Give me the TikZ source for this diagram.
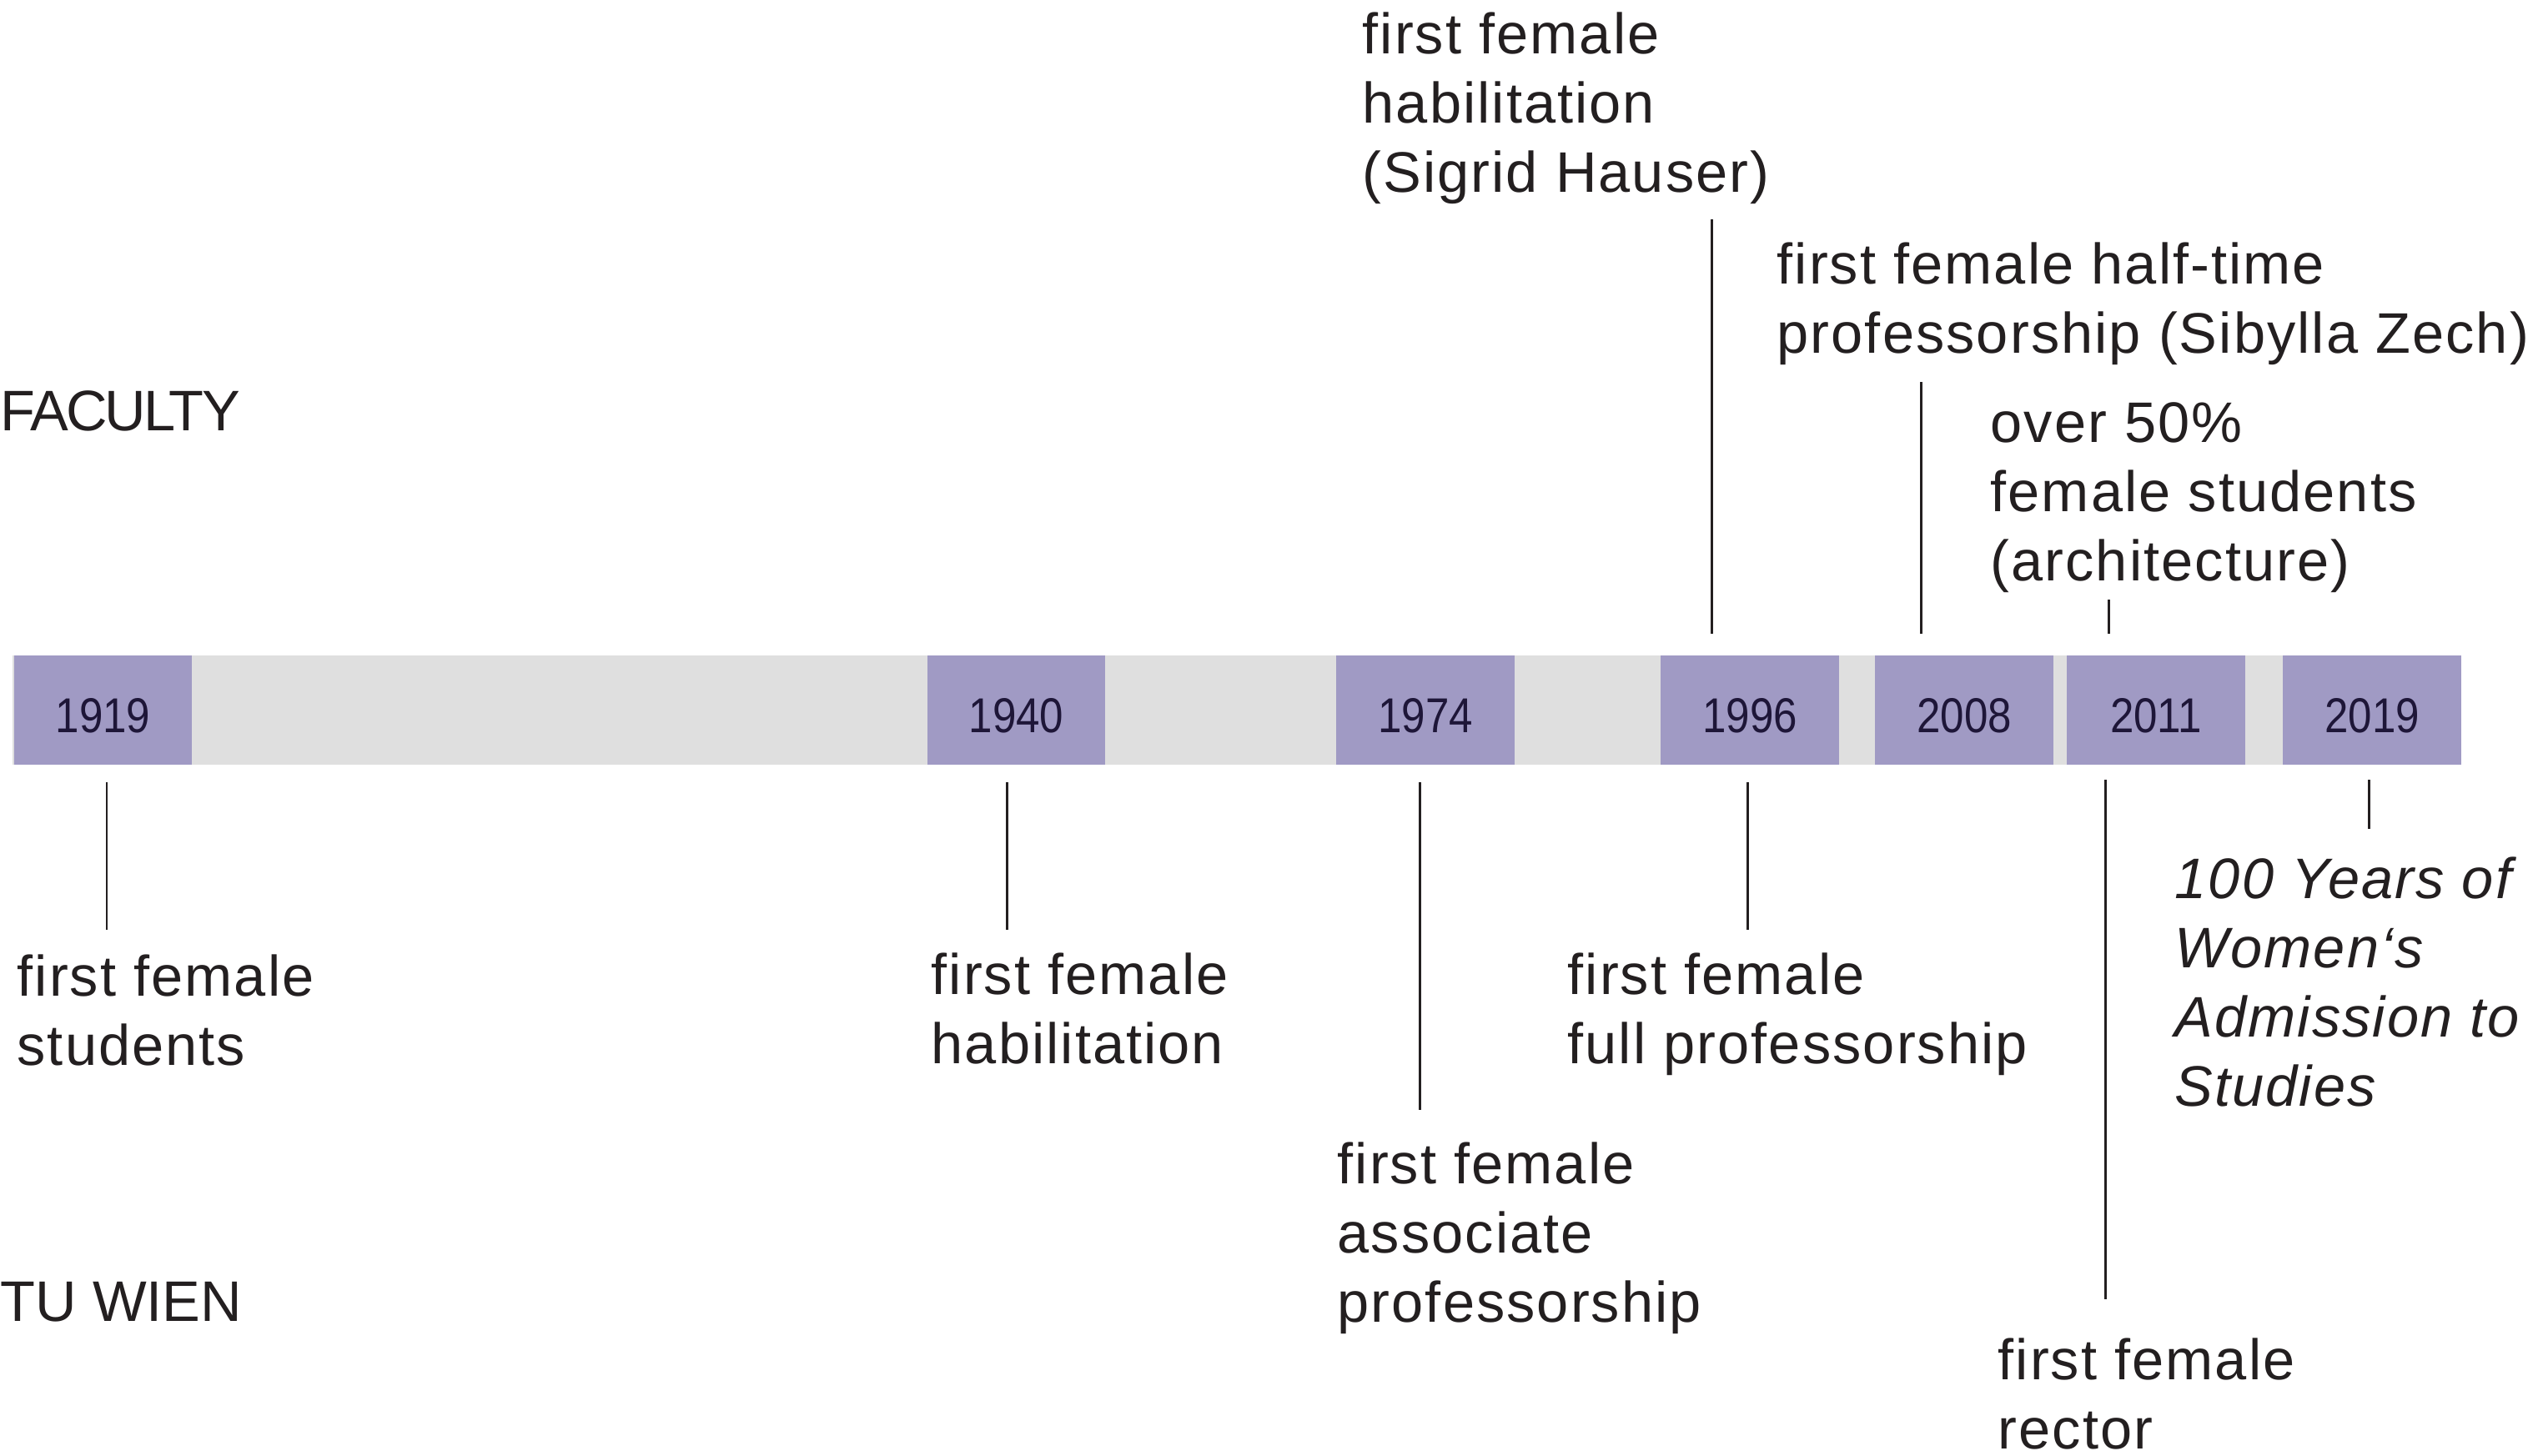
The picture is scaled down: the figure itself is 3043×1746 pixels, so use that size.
\documentclass[tikz,border=0pt]{standalone}
\usepackage{fontspec}
\setmainfont{Liberation Sans}
\newfontfamily\lblfont[LetterSpace=3]{Liberation Sans}
\newfontfamily\sidefont[LetterSpace=-4]{Liberation Sans}
\newfontfamily\yrfont[FakeStretch=0.87]{Liberation Sans}
\definecolor{barg}{HTML}{DFDFDF}
\definecolor{yrpurple}{HTML}{A09AC4}
\definecolor{ink}{HTML}{231F20}
\definecolor{yrink}{HTML}{1E1638}
\newcommand{\firststrut}{\rule{0pt}{16pt}}
\tikzset{
  yearbox/.style={fill=yrpurple, draw=none, minimum width=2.13cm, minimum height=1.31cm,
    inner sep=0pt, text height=15.1pt, text depth=0pt,
    font=\yrfont\fontsize{16.7pt}{20pt}\selectfont, text=yrink},
  lbl/.style={anchor=north west, inner sep=0pt, align=left, text=ink,
    font=\lblfont\fontsize{19.5pt}{23.6pt}\selectfont, yshift=16pt},
  tick/.style={draw=ink, line width=0.85pt},
  side/.style={anchor=base west, inner sep=0pt, text=ink,
    font=\fontsize{19.5pt}{23.6pt}\selectfont}
}
\begin{document}
\begin{tikzpicture}[x=0.01cm, y=-0.01cm]
\useasboundingbox (0,0) rectangle (3043,1746);
% bar
\node[fill=barg, minimum width=29.34cm, minimum height=1.31cm, inner sep=0pt] (bar) at (1483,851.5) {};
% year boxes
\node[yearbox] (y1919) at (123.5,851.5) {1919};
\node[yearbox] (y1940) at (1218.5,851.5) {1940};
\node[yearbox] (y1974) at (1709,851.5) {1974};
\node[yearbox] (y1996) at (2098,851.5) {1996};
\node[yearbox] (y2008) at (2355,851.5) {2008};
\node[yearbox] (y2011) at (2585,851.5) {2011};
\node[yearbox] (y2019) at (2844,851.5) {2019};
% side labels
\node[side, font=\sidefont\fontsize{19.5pt}{23.6pt}\selectfont] (faculty) at (0,517) {FACULTY};
\node[side] (tuwien) at (0,1584) {TU WIEN};
% event labels below
\node[lbl] (l1919) at (20,1194) {\firststrut first female\\students};
\node[lbl] (l1940) at (1116,1192) {\firststrut first female\\habilitation};
\node[lbl] (l1974) at (1603,1419) {\firststrut first female\\associate\\professorship};
\node[lbl] (l1996b) at (1879,1192) {\firststrut first female\\full professorship};
\node[lbl] (l2011b) at (2395,1654) {\firststrut first female\\rector};
\node[lbl, font=\lblfont\itshape\fontsize{19.5pt}{23.6pt}\selectfont] (l2019) at (2607,1077) {\firststrut 100 Years of\\Women‘s\\Admission to\\Studies};
% event labels above
\node[lbl] (l1996a) at (1633,64) {\firststrut first female\\habilitation\\(Sigrid Hauser)};
\node[lbl] (l2008) at (2130,340) {\firststrut first female half-time\\professorship (Sibylla Zech)};
\node[lbl] (l2011a) at (2386,530) {\firststrut over 50\%\\female students\\(architecture)};
% connector ends
\coordinate (a1919) at (128,938);   \coordinate (b1919) at (128,1115);
\coordinate (a1940) at (1207,938);  \coordinate (b1940) at (1207,1115);
\coordinate (a1974) at (1702,938);  \coordinate (b1974) at (1702,1331);
\coordinate (a1996) at (2095,938);  \coordinate (b1996) at (2095,1115);
\coordinate (a2011) at (2524,935);  \coordinate (b2011) at (2524,1558);
\coordinate (a2019) at (2840,935);  \coordinate (b2019) at (2840,994);
\coordinate (u1996) at (2052,760);  \coordinate (v1996) at (2052,263);
\coordinate (u2008) at (2303,760);  \coordinate (v2008) at (2303,458);
\coordinate (u2011) at (2528,760);  \coordinate (v2011) at (2528,719);
% connectors
\draw[tick] (a1919) -- (b1919);
\draw[tick] (a1940) -- (b1940);
\draw[tick] (a1974) -- (b1974);
\draw[tick] (a1996) -- (b1996);
\draw[tick] (a2011) -- (b2011);
\draw[tick] (a2019) -- (b2019);
\draw[tick] (u1996) -- (v1996);
\draw[tick] (u2008) -- (v2008);
\draw[tick] (u2011) -- (v2011);
\end{tikzpicture}
\end{document}
